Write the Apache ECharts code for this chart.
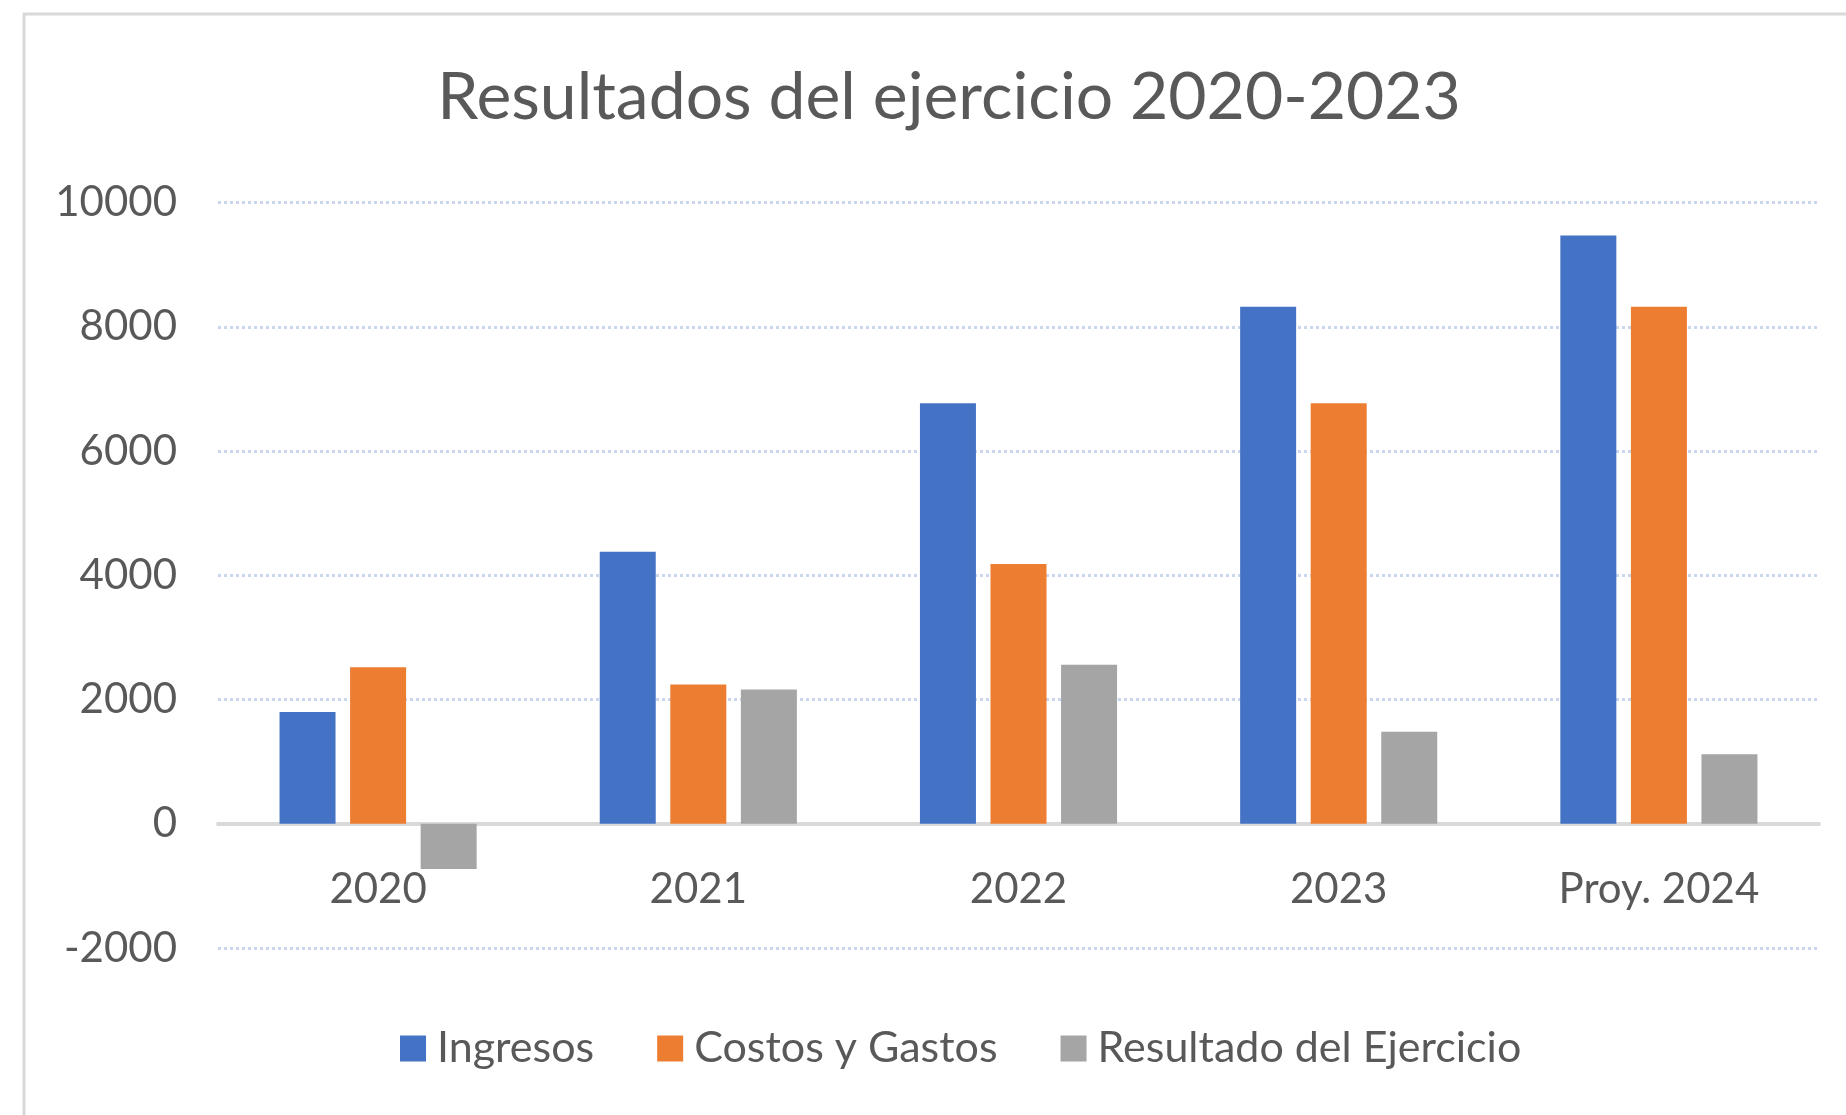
<!DOCTYPE html>
<html>
<head>
<meta charset="utf-8">
<title>Resultados del ejercicio 2020-2023</title>
<script src="https://cdn.jsdelivr.net/npm/echarts/dist/echarts.min.js"></script>
<style>
    html, body { margin: 0; padding: 0; background: #ffffff; }
    #main { width: 1846px; height: 1115px; }
</style>
</head>
<body>
<div id="main"></div>
<script>
// categorias del eje X
var categorias = ['2020', '2021', '2022', '2023', 'Proy. 2024'];
// valores
var ingresos = [1800, 4380, 6770, 8320, 9470];
var costosGastos = [2520, 2240, 4180, 6770, 8320];
var resultado = [-730, 2160, 2560, 1480, 1120];
var nombresSeries = ['Ingresos', 'Costos y Gastos', 'Resultado del Ejercicio'];

var fuente = 'Lato';
var grisTexto = '#595959';

var myChart = echarts.init(document.getElementById('main'));
var option = {
    backgroundColor: '#ffffff',
    textStyle: { fontFamily: fuente },
    color: ['#4472C4', '#ED7D31', '#A5A5A5'],
    title: {
        text: 'Resultados del ejercicio 2020-2023',
        left: 949,
        top: 65,
        padding: 0,
        textAlign: 'center',
        textStyle: {
            fontFamily: fuente,
            fontSize: 66,
            fontWeight: 'normal',
            color: grisTexto
        }
    },
    // marco del area del grafico
    graphic: [{
        type: 'rect',
        shape: { x: 24, y: 14, width: 1900, height: 1200 },
        style: { fill: 'none', stroke: '#d9d9d9', lineWidth: 3 },
        silent: true
    }],
    legend: {
        data: nombresSeries,
        left: 395,
        top: 1022,
        itemWidth: 26,
        itemHeight: 26,
        itemGap: 63,
        icon: 'rect',
        textStyle: {
            fontFamily: fuente,
            fontSize: 43,
            color: grisTexto,
            padding: [0, 0, 0, 6]
        }
    },
    grid: {
        left: 218,
        right: 27,
        top: 202.5,
        bottom: 167,
        containLabel: false
    },
    xAxis: {
        type: 'category',
        data: categorias,
        axisTick: { show: false },
        axisLine: {
            onZero: true,
            lineStyle: { color: '#d9d9d9', width: 4 }
        },
        // las etiquetas quedan bajo la linea del cero, no al pie del grafico
        axisLabel: {
            fontFamily: fuente,
            fontSize: 42,
            color: grisTexto,
            margin: -80
        }
    },
    yAxis: {
        type: 'value',
        min: -2000,
        max: 10000,
        interval: 2000,
        axisLine: { show: false },
        axisTick: { show: false },
        axisLabel: {
            fontFamily: fuente,
            fontSize: 42,
            color: grisTexto,
            margin: 41,
            formatter: function (v) { return String(v); }
        },
        splitLine: {
            lineStyle: { color: '#cbd7ef', type: [3, 3], width: 3 }
        }
    },
    series: [
        { name: nombresSeries[0], type: 'bar', data: ingresos, barWidth: 56, barGap: '26%' },
        { name: nombresSeries[1], type: 'bar', data: costosGastos, barWidth: 56, barGap: '26%' },
        { name: nombresSeries[2], type: 'bar', data: resultado, barWidth: 56, barGap: '26%' }
    ]
};
myChart.setOption(option);
</script>
</body>
</html>
